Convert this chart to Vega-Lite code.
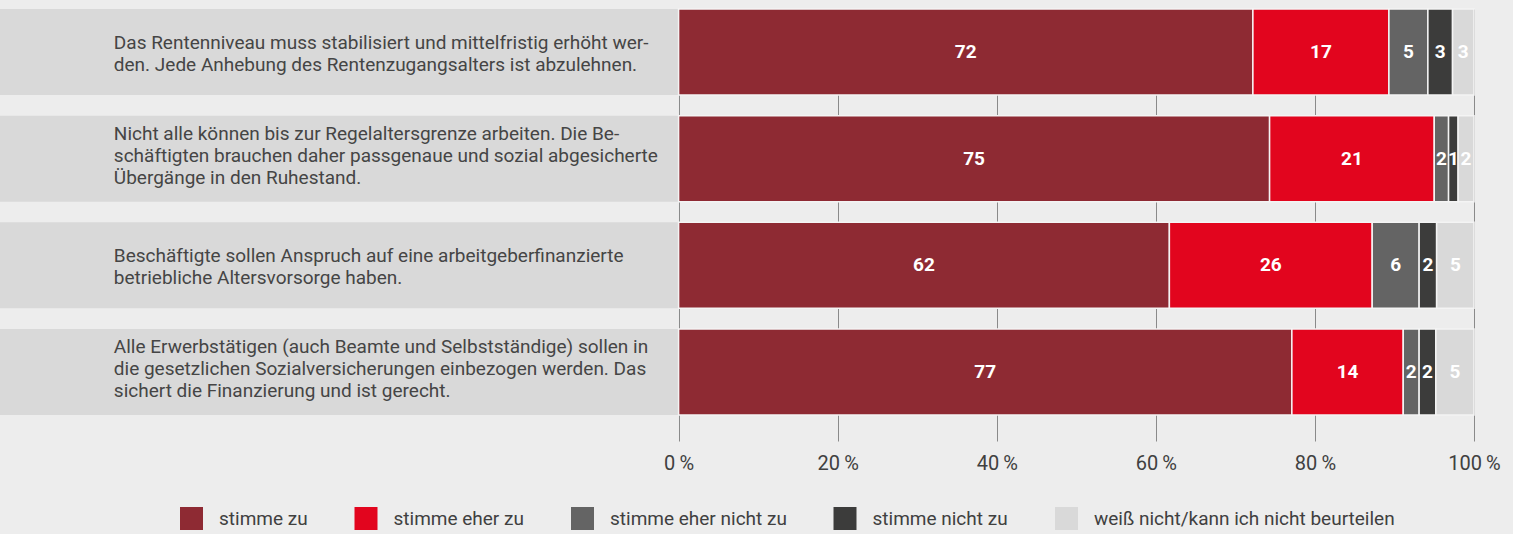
{
  "$schema": "https://vega.github.io/schema/vega-lite/v6.json",
  "autosize": {"type": "none"},
  "padding": {"left": 0, "right": 0, "top": 9, "bottom": 93},
  "width": 1513,
  "height": 432,
  "background": "#ededed",
  "config": {
    "view": {"stroke": null},
    "font": "Roboto"
  },
  "datasets": {
    "questions": [
      {"id": 1, "lines": 2, "text": "Das Rentenniveau muss stabilisiert und mittelfristig erhöht wer-\nden. Jede Anhebung des Rentenzugangsalters ist abzulehnen."},
      {"id": 2, "lines": 3, "text": "Nicht alle können bis zur Regelaltersgrenze arbeiten. Die Be-\nschäftigten brauchen daher passgenaue und sozial abgesicherte\nÜbergänge in den Ruhestand."},
      {"id": 3, "lines": 2, "text": "Beschäftigte sollen Anspruch auf eine arbeitgeberfinanzierte\nbetriebliche Altersvorsorge haben."},
      {"id": 4, "lines": 3, "text": "Alle Erwerbstätigen (auch Beamte und Selbstständige) sollen in\ndie gesetzlichen Sozialversicherungen einbezogen werden. Das\nsichert die Finanzierung und ist gerecht."}
    ],
    "answers": [
      {"id": 1, "cat": "stimme zu", "ord": 1, "value": 72.2, "label": "72"},
      {"id": 1, "cat": "stimme eher zu", "ord": 2, "value": 17.1, "label": "17"},
      {"id": 1, "cat": "stimme eher nicht zu", "ord": 3, "value": 4.9, "label": "5"},
      {"id": 1, "cat": "stimme nicht zu", "ord": 4, "value": 3.1, "label": "3"},
      {"id": 1, "cat": "weiß nicht/kann ich nicht beurteilen", "ord": 5, "value": 2.7, "label": "3"},
      {"id": 2, "cat": "stimme zu", "ord": 1, "value": 74.3, "label": "75"},
      {"id": 2, "cat": "stimme eher zu", "ord": 2, "value": 20.7, "label": "21"},
      {"id": 2, "cat": "stimme eher nicht zu", "ord": 3, "value": 1.8, "label": "2"},
      {"id": 2, "cat": "stimme nicht zu", "ord": 4, "value": 1.2, "label": "1"},
      {"id": 2, "cat": "weiß nicht/kann ich nicht beurteilen", "ord": 5, "value": 2.0, "label": "2"},
      {"id": 3, "cat": "stimme zu", "ord": 1, "value": 61.7, "label": "62"},
      {"id": 3, "cat": "stimme eher zu", "ord": 2, "value": 25.5, "label": "26"},
      {"id": 3, "cat": "stimme eher nicht zu", "ord": 3, "value": 5.9, "label": "6"},
      {"id": 3, "cat": "stimme nicht zu", "ord": 4, "value": 2.2, "label": "2"},
      {"id": 3, "cat": "weiß nicht/kann ich nicht beurteilen", "ord": 5, "value": 4.7, "label": "5"},
      {"id": 4, "cat": "stimme zu", "ord": 1, "value": 77.1, "label": "77"},
      {"id": 4, "cat": "stimme eher zu", "ord": 2, "value": 14.0, "label": "14"},
      {"id": 4, "cat": "stimme eher nicht zu", "ord": 3, "value": 2.0, "label": "2"},
      {"id": 4, "cat": "stimme nicht zu", "ord": 4, "value": 2.1, "label": "2"},
      {"id": 4, "cat": "weiß nicht/kann ich nicht beurteilen", "ord": 5, "value": 4.8, "label": "5"}
    ]
  },
  "encoding": {
    "y": {
      "field": "id",
      "type": "ordinal",
      "axis": null,
      "scale": {"paddingInner": 0.1937, "paddingOuter": 0.122, "align": 0}
    }
  },
  "layer": [
    {
      "data": {"name": "questions"},
      "mark": {"type": "bar", "color": "#d9d9d9"},
      "encoding": {
        "x": {"datum": -85.31, "type": "quantitative"},
        "x2": {"datum": 100}
      }
    },
    {
      "data": {"name": "questions"},
      "transform": [{"filter": "datum.lines == 2"}],
      "mark": {"type": "text", "align": "left", "baseline": "middle", "lineBreak": "\n", "lineHeight": 22, "fontSize": 19, "color": "#454545", "font": "Roboto", "dy": -9},
      "encoding": {
        "x": {"datum": -71, "type": "quantitative"},
        "text": {"field": "text", "type": "nominal"}
      }
    },
    {
      "data": {"name": "questions"},
      "transform": [{"filter": "datum.lines == 3"}],
      "mark": {"type": "text", "align": "left", "baseline": "middle", "lineBreak": "\n", "lineHeight": 22, "fontSize": 19, "color": "#454545", "font": "Roboto", "dy": -25},
      "encoding": {
        "x": {"datum": -71, "type": "quantitative"},
        "text": {"field": "text", "type": "nominal"}
      }
    },
    {
      "data": {"name": "answers"},
      "mark": {"type": "bar", "stroke": "#f4f4f4", "strokeWidth": 1.5},
      "encoding": {
        "x": {
          "field": "value",
          "type": "quantitative",
          "stack": "zero",
          "scale": {"domain": [-85.31, 104.9], "nice": false, "zero": false},
          "axis": {
            "values": [0, 20, 40, 60, 80, 100],
            "title": null,
            "grid": true,
            "gridColor": "#8a8a8a",
            "gridWidth": 1,
            "domain": false,
            "ticks": false,
            "labelPadding": 12,
            "labelFont": "Roboto",
            "labelFontSize": 20,
            "labelColor": "#404040",
            "labelExpr": "datum.value + '\u2009%'"
          }
        },
        "color": {
          "field": "cat",
          "type": "nominal",
          "scale": {
            "domain": ["stimme zu", "stimme eher zu", "stimme eher nicht zu", "stimme nicht zu", "weiß nicht/kann ich nicht beurteilen"],
            "range": ["#8e2a33", "#e2051e", "#646464", "#3c3c3b", "#d9d9d9"]
          },
          "legend": {
            "title": null,
            "orient": "none",
            "legendX": 180,
            "legendY": 498,
            "direction": "horizontal",
            "columns": 5,
            "padding": 0,
            "symbolType": "square",
            "symbolSize": 529,
            "symbolStrokeWidth": 0,
            "symbolOpacity": 1,
            "labelFont": "Roboto",
            "labelFontSize": 19,
            "labelColor": "#404040",
            "labelOffset": 16,
            "columnPadding": 46.5,
            "labelLimit": 500
          }
        },
        "order": {"field": "ord", "type": "quantitative"}
      }
    },
    {
      "data": {"name": "answers"},
      "mark": {"type": "text", "color": "white", "fontWeight": "bold", "fontSize": 19, "font": "Roboto", "align": "center", "baseline": "middle"},
      "encoding": {
        "x": {"field": "value", "type": "quantitative", "stack": "zero", "bandPosition": 0.5},
        "detail": {"field": "cat", "type": "nominal"},
        "order": {"field": "ord", "type": "quantitative"},
        "text": {"field": "label", "type": "nominal"}
      }
    }
  ]
}
